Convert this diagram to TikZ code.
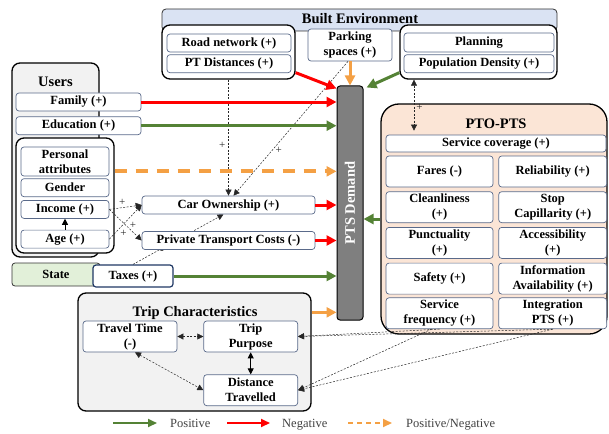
\documentclass[tikz,border=0pt]{standalone}
\usepackage{fontspec}
\setmainfont{Liberation Serif}
\usetikzlibrary{positioning, arrows.meta, backgrounds}

\definecolor{posgreen}{HTML}{548235}
\definecolor{negred}{HTML}{FF0000}
\definecolor{mixorange}{HTML}{F4A044}
\definecolor{envblue}{HTML}{DAE3F3}
\definecolor{itemedge}{HTML}{5A6A8A}
\definecolor{taxedge}{HTML}{1F3864}
\definecolor{grayfill}{HTML}{F2F2F2}
\definecolor{peachfill}{HTML}{FBE5D6}
\definecolor{statefill}{HTML}{E2F0D9}
\definecolor{bargray}{HTML}{7F7F7F}
\definecolor{legendgray}{HTML}{404040}

\newcommand{\itemfont}{\fontsize{12.5}{15}\selectfont\bfseries}
\newcommand{\headfont}{\fontsize{14.5}{16}\selectfont\bfseries}

\begin{document}
\begin{tikzpicture}[x=1pt, y=-1pt,
  item/.style={draw=itemedge, fill=white, line width=0.7pt, rounded corners=3pt, align=center, inner sep=1pt, font=\itemfont},
  group/.style={draw=black, line width=1.3pt, rounded corners=8pt, inner sep=0pt},
  head/.style={font=\headfont, inner sep=0pt},
  posarrow/.style={posgreen, line width=3pt, -{Triangle[length=10pt,width=10pt]}},
  negarrow/.style={negred, line width=3pt, -{Triangle[length=10pt,width=10pt]}},
  mixarrow/.style={mixorange, line width=3pt, -{Triangle[length=10pt,width=10pt]}},
  link/.style={black!85, line width=0.5pt, dash pattern=on 2pt off 1.5pt, -{Triangle[length=6pt,width=6pt]}},
  linkboth/.style={link, {Triangle[length=6pt,width=6pt]}-{Triangle[length=6pt,width=6pt]}},
  sign/.style={font=\fontsize{11}{11}\selectfont, inner sep=1pt},
  legend/.style={font=\fontsize{12.5}{14}\selectfont, text=legendgray, inner sep=0pt}]
\useasboundingbox (0,0) rectangle (609,433);

% built environment
\node[draw=black!80, fill=envblue, line width=0.8pt, rounded corners=4pt, minimum width=395pt, minimum height=22pt] (envbar) at (359.5,20) {};
\node[head, anchor=base] (envtitle) at (360,24) {Built Environment};
\node[group, fill=white, minimum width=133pt, minimum height=54pt] (roadgrp) at (228.5,52) {};
\node[item, minimum width=124pt, minimum height=18pt] (road) at (229,43) {Road network (+)};
\node[item, minimum width=124pt, minimum height=18pt, below=2pt of road] (ptdist) {PT Distances (+)};
\node[item, minimum width=84pt, minimum height=32pt] (parking) at (350,45) {Parking\\spaces (+)};
\node[group, fill=white, minimum width=157pt, minimum height=54pt] (plangrp) at (478.5,52) {};
\node[item, minimum width=150pt, minimum height=19pt] (planning) at (479,42.5) {Planning};
\node[item, minimum width=150pt, minimum height=18pt, below=2pt of planning] (popdens) {Population Density (+)};

% users
\node[group, fill=grayfill, minimum width=87pt, minimum height=194pt] (usersgrp) at (55.5,160) {};
\node[head, anchor=base] (userstitle) at (55.5,87) {Users};
\node[item, minimum width=125pt, minimum height=18pt] (family) at (78.5,102) {Family (+)};
\node[item, minimum width=125pt, minimum height=18pt, below=5pt of family] (education) {Education (+)};
\node[group, fill=white, minimum width=98pt, minimum height=115pt] (persgrp) at (65,195.5) {};
\node[item, minimum width=88pt, minimum height=29pt] (persattr) at (65,161.5) {Personal\\attributes};
\node[item, minimum width=88pt, minimum height=18pt, below=2pt of persattr] (gender) {Gender};
\node[item, minimum width=88pt, minimum height=18pt, below=3pt of gender] (income) {Income (+)};
\node[item, minimum width=88pt, minimum height=18pt, below=11pt of income] (age) {Age (+)};
\draw[black, line width=0.8pt, -{Triangle[length=6pt,width=6pt]}] (age.north) -- (income.south);

% state
\node[draw=black!80, fill=statefill, line width=0.8pt, rounded corners=3pt, minimum width=88pt, minimum height=23pt, font=\itemfont] (state) at (56,274.5) {State};
\node[item, draw=taxedge, line width=1.2pt, minimum width=80pt, minimum height=22pt] (taxes) at (133,276) {Taxes (+)};

% private transport
\node[item, minimum width=173pt, minimum height=18pt] (carown) at (228.5,205) {Car Ownership (+)};
\node[item, minimum width=173pt, minimum height=18pt] (ptcost) at (228.5,240.5) {Private Transport Costs (-)};

% demand bar
\node[draw=black, fill=bargray, line width=1pt, rounded corners=3pt, minimum width=26pt, minimum height=234pt] (demand) at (350,203) {};
\node[rotate=90, font=\headfont, text=white] (demandtext) at (demand.center) {PTS Demand};

% PTO-PTS
\node[group, fill=peachfill, rounded corners=18pt, minimum width=226pt, minimum height=230pt] (ptogrp) at (494,219) {};
\node[head, anchor=base] (ptotitle) at (496,128) {PTO-PTS};
\node[item, minimum width=220pt, minimum height=17pt] (svccov) at (496,143.5) {Service coverage (+)};
\node[item, minimum width=107pt, minimum height=31pt] (fares) at (439.5,171.5) {Fares (-)};
\node[item, minimum width=108pt, minimum height=31pt, right=5pt of fares] (reliab) {Reliability (+)};
\node[item, minimum width=107pt, minimum height=31pt, below=4pt of fares] (clean) {Cleanliness\\(+)};
\node[item, minimum width=108pt, minimum height=31pt, right=5pt of clean] (stopcap) {Stop\\Capillarity (+)};
\node[item, minimum width=107pt, minimum height=31pt, below=4pt of clean] (punct) {Punctuality\\(+)};
\node[item, minimum width=108pt, minimum height=31pt, right=5pt of punct] (access) {Accessibility\\(+)};
\node[item, minimum width=107pt, minimum height=31pt, below=4pt of punct] (safety) {Safety (+)};
\node[item, minimum width=108pt, minimum height=31pt, right=5pt of safety] (infoavail) {Information\\Availability (+)};
\node[item, minimum width=107pt, minimum height=31pt, below=3pt of safety] (svcfreq) {Service\\frequency (+)};
\node[item, minimum width=108pt, minimum height=31pt, right=5pt of svcfreq] (integ) {Integration\\PTS (+)};

% trip characteristics
\node[group, fill=grayfill, minimum width=233pt, minimum height=118pt] (tripgrp) at (194.5,352) {};
\node[head, anchor=base] (triptitle) at (195,316) {Trip Characteristics};
\node[item, minimum width=94pt, minimum height=31pt] (traveltime) at (130,336.5) {Travel Time\\(-)};
\node[item, minimum width=94pt, minimum height=31pt, right=26pt of traveltime] (trippurpose) {Trip\\Purpose};
\node[item, minimum width=94pt, minimum height=31pt, below=22pt of trippurpose] (distance) {Distance\\Travelled};

% dashed links
\draw[link] (roadgrp.south) -- node[sign, pos=0.57, left=2pt] {+} (carown.north);
\draw[link] ([xshift=-2pt]parking.south) -- node[sign, pos=0.66, right=2pt] {+} ([xshift=5pt]carown.north);
\draw[linkboth] ([xshift=-64.5pt]plangrp.south) -- node[sign, pos=0.55, right=1pt] {+} ([xshift=-82pt,yshift=4pt]svccov.north);
\draw[link] (income.east) -- node[sign, pos=0.4, above=1pt] {+} (carown.west);
\draw[link] (income.east) -- node[sign, pos=0.5, right=3pt] {+} (ptcost.west);
\draw[link] (age.east) -- node[sign, pos=0.3, below right=0pt] {+} (carown.west);
\begin{scope}[on background layer]
\draw[link] (taxes.north) -- node[sign, pos=0.32, below=1pt] {-} ([xshift=-5pt]carown.south);
\end{scope}
\draw[link] (svcfreq.south) -- (trippurpose.east);
\draw[link] (integ.south) -- (trippurpose.east);
\draw[link] ([xshift=-8pt]svcfreq.south) -- (distance.east);
\draw[link] (integ.south) -- (distance.east);
\draw[linkboth] (traveltime.east) -- (trippurpose.west);
\draw[black, line width=0.8pt, {Triangle[length=6pt,width=6pt]}-{Triangle[length=6pt,width=6pt]}] (trippurpose.south) -- (distance.north);
\draw[linkboth] ([xshift=5pt]traveltime.south) -- (distance.west);

% arrows into demand
\coordinate (persdash) at ([yshift=-34pt]persgrp.north east);
\coordinate (tripout) at ([yshift=-20pt]tripgrp.north east);
\draw[negarrow] ([yshift=7pt]roadgrp.south east) -- ([yshift=-3pt]demand.north west);
\draw[mixarrow] (parking.south) -- (demand.north);
\draw[posarrow] ([yshift=7pt]plangrp.south west) -- ([xshift=3pt,yshift=-2pt]demand.north east);
\draw[negarrow] (family.east) -- (family.east -| demand.west);
\draw[posarrow] (education.east) -- (education.east -| demand.west);
\draw[mixarrow, line width=4pt, dash pattern=on 12pt off 9pt] (persdash) -- (persdash -| demand.west);
\draw[negarrow] (carown.east) -- (carown.east -| demand.west);
\draw[negarrow] (ptcost.east) -- (ptcost.east -| demand.west);
\draw[posarrow] (taxes.east) -- (taxes.east -| demand.west);
\draw[mixarrow] (tripout) -- (tripout -| demand.west);
\draw[posarrow] (ptogrp.west) -- (ptogrp.west -| demand.east);

% legend
\coordinate (legposa) at (113,423);
\coordinate (legposb) at (157,423);
\coordinate (legnega) at (227,423);
\coordinate (legnegb) at (270,423);
\coordinate (legmixa) at (348,423);
\coordinate (legmixb) at (392,423);
\draw[posarrow, line width=2pt, -{Triangle[length=9pt,width=8pt]}] (legposa) -- (legposb);
\draw[negarrow, line width=2pt, -{Triangle[length=9pt,width=8pt]}] (legnega) -- (legnegb);
\draw[mixarrow, line width=2pt, dash pattern=on 5pt off 4pt, -{Triangle[length=9pt,width=8pt]}] (legmixa) -- (legmixb);
\node[legend, anchor=base west] (legpos) at (170,427) {Positive};
\node[legend, anchor=base west] (legneg) at (282,427) {Negative};
\node[legend, anchor=base west] (legmix) at (406,427) {Positive/Negative};

\end{tikzpicture}
\end{document}
